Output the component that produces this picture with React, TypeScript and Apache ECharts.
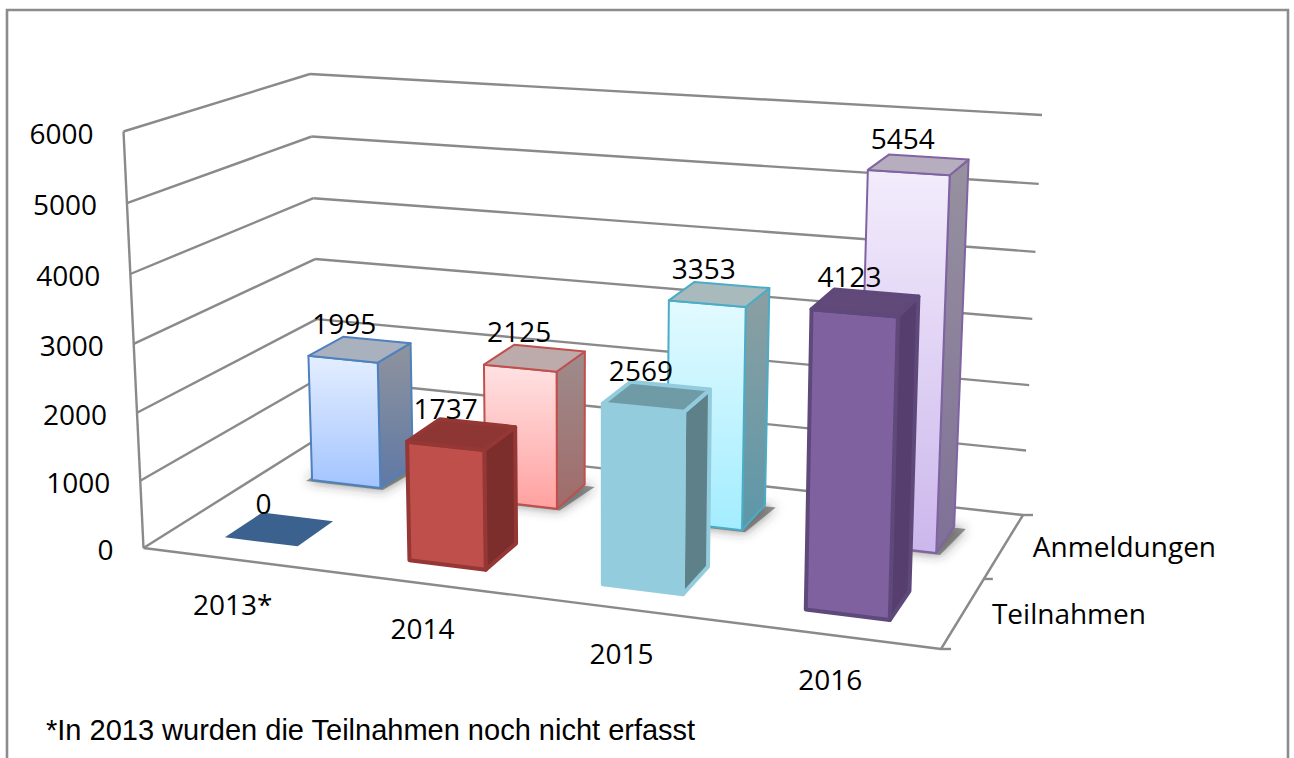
import React, { useEffect, useRef } from "react";
import * as echarts from "echarts";

const categories = ["2013*", "2014", "2015", "2016"];
const depthNames = ["Teilnahmen", "Anmeldungen"];
const teilnahmen = [0, 1737, 2569, 4123];
const anmeldungen = [1995, 2125, 3353, 5454];
const valueTicks = [0, 1000, 2000, 3000, 4000, 5000, 6000];

// the box of the 3D scene on screen
const FLB = [143.5, 548], FRB = [941, 649], BLB = [320, 437], BRB = [1023, 515];
const FLT = [123.5, 131.5], FRT = [955, 189], BLT = [310, 74], BRT = [1042, 115];

const warpX = (u: number) => u / (1 + 0.1 * (1 - u));
const warpD = (s: number) => s / (1 - 0.087 * (1 - s));
const warpV = (v: number) => v / (1 + 0.04 * (1 - v));
const mix = (a: number[], b: number[], t: number) => [a[0] + (b[0] - a[0]) * t, a[1] + (b[1] - a[1]) * t];

function project(u: number, s: number, v: number) {
  const x = warpX(u), d = warpD(s), w = warpV(v);
  const bottom = mix(mix(FLB, FRB, x), mix(BLB, BRB, x), d);
  const top = mix(mix(FLT, FRT, x), mix(BLT, BRT, x), d);
  return mix(bottom, top, w);
}

const BAR_U = 0.1;
const BAR_S = 0.21;
const FONT = '"Open Sans"';
const grad = (a: string, b: string) =>
  new echarts.graphic.LinearGradient(0, 0, 0, 1, [
    { offset: 0, color: a },
    { offset: 1, color: b },
  ]);

type Look = { front: any; side: any; top: string; border: string; lw: number };
const backLooks: Look[] = [
  { front: grad("#E4EEFF", "#A3C4FF"), side: grad("#8F949E", "#5F78A5"), top: "#A9B0BE", border: "#4F81BD", lw: 2 },
  { front: grad("#FFE2E3", "#FFA1A0"), side: grad("#9E8C8C", "#A06B69"), top: "#BDAAAB", border: "#C0504D", lw: 2 },
  { front: grad("#E2FAFF", "#A3EDFF"), side: grad("#8C9FA2", "#5C97A9"), top: "#A9BABD", border: "#4BACC6", lw: 2 },
  { front: grad("#F3ECFC", "#CCB7EC"), side: grad("#97919F", "#7F7097"), top: "#B6AEBE", border: "#8064A2", lw: 2 },
];
const frontLooks: Look[] = [
  { front: "#3B618F", side: "#3B618F", top: "#3B618F", border: "#3B618F", lw: 0 },
  { front: "#BE4F4B", side: "#7C2E2C", top: "#8E3634", border: "#953735", lw: 4 },
  { front: "#93CDDD", side: "#5E8189", top: "#6F9BA7", border: "#93CDDD", lw: 4 },
  { front: "#7F619F", side: "#563F6F", top: "#61497A", border: "#5F497A", lw: 4 },
];

function normalise(api: any, params: any, c: number, val: number) {
  const p = api.coord([c, val]);
  const cs = params.coordSys;
  return { u: (p[0] - cs.x) / cs.width, v: 1 - (p[1] - cs.y) / cs.height };
}

const poly = (points: number[][], style: any) => ({ type: "polygon", shape: { points }, style });

function barSeries(name: string, values: number[], depth: number, looks: Look[], withShadow: boolean, shift: number, z: number) {
  return {
    type: "custom",
    name,
    z,
    clip: false,
    data: values.map((v, i) => [i, v]),
    renderItem(params: any, api: any) {
      const c = api.value(0);
      const { u, v } = normalise(api, params, c, api.value(1));
      const look = looks[c];
      const u0 = u + shift - BAR_U / 2, u1 = u + shift + BAR_U / 2;
      const s0 = depth - BAR_S / 2, s1 = depth + BAR_S / 2;
      const stroke = { stroke: look.border, lineWidth: look.lw, lineJoin: "round" };
      const children: any[] = [];
      if (withShadow) {
        children.push(
          poly(
            [project(u0 - 0.006, s0 - 0.012, 0), project(u1 + 0.006, s0 - 0.012, 0), project(u1 + 0.016, s1 - 0.01, 0), project(u0 - 0.004, s1 - 0.01, 0)],
            { fill: "rgba(90,90,90,0.65)", shadowBlur: 12, shadowColor: "rgba(50,50,50,0.85)" }
          )
        );
      }
      const topFace = poly([project(u0, s0, v), project(u1, s0, v), project(u1, s1, v), project(u0, s1, v)], {
        fill: look.top,
        ...stroke,
      });
      if (v > 0) {
        children.push(
          poly([project(u1, s0, 0), project(u1, s1, 0), project(u1, s1, v), project(u1, s0, v)], { fill: look.side, ...stroke }),
          poly([project(u0, s0, 0), project(u1, s0, 0), project(u1, s0, v), project(u0, s0, v)], { fill: look.front, ...stroke })
        );
      }
      children.push(topFace);
      return { type: "group", children };
    },
  };
}

const line = (a: number[], b: number[]) => ({
  type: "line",
  shape: { x1: a[0], y1: a[1], x2: b[0], y2: b[1] },
  style: { stroke: "#8A8A8A", lineWidth: 2.4 },
});
const label = (text: string, x: number, y: number, align: string, family = FONT, size = 28) => ({
  type: "text",
  x,
  y,
  style: { text, fill: "#000", fontFamily: family, fontSize: size, align, verticalAlign: "middle" },
});

function App() {
  const ref = useRef<HTMLDivElement>(null);
  useEffect(() => {
    const chart = echarts.init(ref.current!, undefined, { renderer: "svg" });
    const wallSeries = {
      type: "custom",
      z: 1,
      clip: false,
      data: valueTicks.map((v) => [0, v]),
      renderItem(params: any, api: any) {
        const { v } = normalise(api, params, 0, api.value(1));
        const a = project(0, 0, v), b = project(0, 1, v), r = project(1, 1, v);
        const children: any[] = [line(a, b), line(b, r)];
        if (v >= 1) children.push(line(project(0, 0, 0), a));
        children.push(label(String(api.value(1)), a[0] - 30, a[1] + 1, "right"));
        return { type: "group", children };
      },
    };
    const floorSeries = {
      type: "custom",
      z: 1,
      clip: false,
      data: [[0, 0]],
      renderItem() {
        const fl = project(0, 0, 0), fr = project(1, 0, 0), br = project(1, 1, 0), mid = project(1, 0.5, 0);
        return {
          type: "group",
          children: [
            line(fl, fr),
            line(fr, br),
            line(fr, [fr[0] + 10, fr[1]]),
            line(mid, [mid[0] + 9, mid[1]]),
            line(br, [br[0] + 10, br[1]]),
          ],
        };
      },
    };
    const categorySeries = {
      type: "custom",
      z: 2,
      clip: false,
      data: categories.map((_, i) => [i, 0]),
      renderItem(params: any, api: any) {
        const c = api.value(0);
        const { u } = normalise(api, params, c, 0);
        const p = project(u, 0, 0);
        return label(categories[c], p[0] - 2.5, p[1] + 44, "center");
      },
    };
    const depthSeries = {
      type: "custom",
      z: 2,
      clip: false,
      data: depthNames.map((_, i) => [i, 0]),
      renderItem(_: any, api: any) {
        const i = api.value(0);
        const p = project(1, 0.25 + i * 0.5, 0);
        return label(depthNames[i], p[0] + 29, p[1], "left");
      },
    };
    const valueLabels = (values: number[], depth: number, dx: number, z: number) => ({
      type: "custom",
      z,
      clip: false,
      data: values.map((v, i) => [i, v]),
      renderItem(params: any, api: any) {
        const c = api.value(0);
        const val = api.value(1);
        const { u, v } = normalise(api, params, c, val);
        const p = project(u, depth, v);
        return label(String(val), p[0] + dx, p[1] - 26.5, "center");
      },
    });

    chart.setOption({
      animation: false,
      backgroundColor: "#ffffff",
      grid: { left: 0, right: 0, top: 0, bottom: 0 },
      xAxis: { type: "category", data: categories, show: false },
      yAxis: { type: "value", min: 0, max: 6000, interval: 1000, show: false },
      graphic: [
        {
          type: "rect",
          shape: { x: 7, y: 10, width: 1281, height: 780 },
          style: { fill: "none", stroke: "#8C8C8C", lineWidth: 2.6 },
        },
        {
          type: "text",
          x: 46,
          y: 730,
          style: {
            text: "*In 2013 wurden die Teilnahmen noch nicht erfasst",
            fill: "#000",
            fontFamily: '"Liberation Sans"',
            fontSize: 29,
            align: "left",
            verticalAlign: "middle",
          },
        },
      ],
      series: [
        wallSeries,
        floorSeries,
        barSeries(depthNames[1], anmeldungen, 0.75, backLooks, true, 0.001, 3),
        barSeries(depthNames[0], teilnahmen, 0.25, frontLooks, false, 0, 4),
        categorySeries,
        depthSeries,
        valueLabels(anmeldungen, 0.75, -15, 5),
        valueLabels(teilnahmen, 0.25, -16, 6),
      ],
    });
    return () => chart.dispose();
  }, []);
  return <div ref={ref} style={{ position: "fixed", left: 0, top: 0, width: 1294, height: 758 }} />;
}

export default App;
